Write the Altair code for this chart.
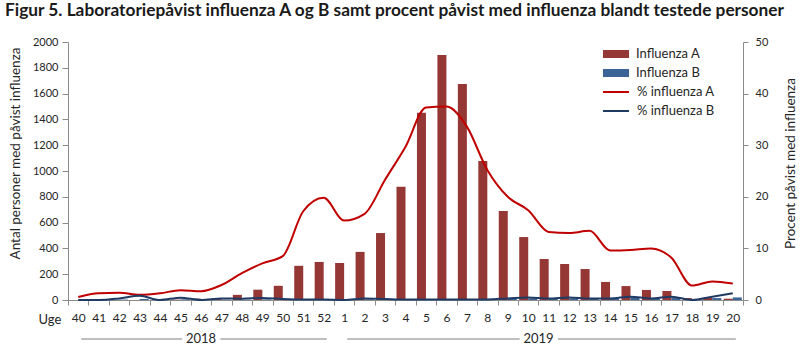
import altair as alt
import pandas as pd

weeks = ["40", "41", "42", "43", "44", "45", "46", "47", "48", "49", "50", "51", "52",
         "1", "2", "3", "4", "5", "6", "7", "8", "9", "10", "11", "12", "13", "14",
         "15", "16", "17", "18", "19", "20"]
years = ["2018"] * 13 + ["2019"] * 20

infl_a = [0, 0, 0, 0, 0, 3, 10, 15, 40, 80, 110, 265, 295,
          287, 373, 519, 878, 1452, 1899, 1674, 1077, 690, 488, 318, 279, 240, 140,
          108, 78, 70, 15, 18, 10]
infl_b = [0, 0, 3, 8, 3, 5, 2, 3, 3, 5, 3, 3, 3,
          2, 5, 4, 5, 6, 5, 5, 6, 8, 12, 10, 12, 10, 12,
          20, 12, 15, 5, 15, 20]
pct_a = [0.6, 1.3, 1.4, 1.0, 1.3, 1.9, 1.7, 2.9, 5.2, 7.1, 8.5, 17.2, 19.8,
         15.4, 16.7, 23.3, 29.7, 37.3, 37.5, 33.6, 25.2, 20.0, 17.4, 13.2, 13.0, 13.4, 9.6,
         9.7, 10.0, 8.2, 2.8, 3.6, 3.2]
pct_b = [0.0, 0.0, 0.3, 0.8, 0.0, 0.45, 0.0, 0.3, 0.25, 0.4, 0.2, 0.1, 0.1,
         0.0, 0.3, 0.2, 0.1, 0.1, 0.1, 0.1, 0.1, 0.3, 0.5, 0.3, 0.5, 0.3, 0.3,
         0.65, 0.3, 0.65, 0.0, 0.65, 1.3]

bar_types = ["Influenza A", "Influenza B"]
bar_colors = ["#953735", "#3A6496"]
line_series = ["% influenza A", "% influenza B"]
line_colors = ["#C00000", "#1F3A63"]

title_text = "Figur 5. Laboratoriepåvist influenza A og B samt procent påvist med influenza blandt testede personer"

FONT = "Lato"
TXT = "#262626"
AX = "#8c8c8c"

n = len(weeks)
bars_df = pd.DataFrame({
    "week": weeks * 2,
    "type": [bar_types[0]] * n + [bar_types[1]] * n,
    "count": infl_a + infl_b,
})
lines_df = pd.DataFrame({
    "week": weeks * 2,
    "series": [line_series[0]] * n + [line_series[1]] * n,
    "pct": pct_a + pct_b,
})

# year group row (positions in week-index units)
yr_rows = []
seg_rows = []
for yv in ["2018", "2019"]:
    idx = [i for i, y in enumerate(years) if y == yv]
    start, end = idx[0], idx[-1] + 1
    center = (start + end) / 2
    yr_rows.append({"year": yv, "pos": center})
    seg_rows.append({"a": start + 0.65, "b": center - 0.92})
    seg_rows.append({"a": center + 0.95, "b": end - 0.35})
year_df = pd.DataFrame(yr_rows)
seg_df = pd.DataFrame(seg_rows)

xband = alt.Scale(paddingInner=0, paddingOuter=0)

bar_layer = alt.Chart(bars_df).mark_bar().encode(
    x=alt.X("week:N", sort=weeks, scale=xband,
            axis=alt.Axis(title="Uge", labelAngle=0, tickBand="extent", tickSize=5,
                          labelFontSize=12, labelPadding=7,
                          titleX=-30, titleY=23, titleAlign="left", titleBaseline="alphabetic",
                          titleFontSize=13)),
    xOffset=alt.XOffset("type:N", scale=alt.Scale(domain=bar_types, paddingOuter=0.136, paddingInner=0)),
    y=alt.Y("count:Q", scale=alt.Scale(domain=[0, 2000], nice=False),
            axis=alt.Axis(title="Antal personer med påvist influenza", values=list(range(0, 2001, 200)),
                          format="d", tickSize=6, labelPadding=4, labelFontSize=11,
                          titleX=-53, titleY=111, titleAngle=270, titleBaseline="middle",
                          titleAlign="center", titleFontSize=13.5)),
    color=alt.Color("type:N", scale=alt.Scale(domain=bar_types, range=bar_colors),
                    legend=alt.Legend(title=None, orient="none", legendX=535, legendY=2.5,
                                      symbolType="M-1,-0.3H1V0.3H-1Z", symbolSize=676,
                                      symbolStrokeWidth=0, clipHeight=19, rowPadding=0,
                                      labelFont=FONT, labelFontSize=13, labelColor=TXT,
                                      labelOffset=7, padding=0)),
)

line_layer = alt.Chart(lines_df).mark_line(strokeWidth=2, interpolate="monotone").encode(
    x=alt.X("week:N", sort=weeks, scale=xband, axis=None),
    y=alt.Y("pct:Q", scale=alt.Scale(domain=[0, 50], nice=False),
            axis=alt.Axis(orient="right", title="Procent påvist med influenza",
                          values=list(range(0, 51, 10)), tickSize=5, labelPadding=7,
                          labelFontSize=11,
                          titleX=47, titleY=121, titleAngle=270, titleBaseline="middle",
                          titleAlign="center", titleFontSize=13.5)),
    stroke=alt.Stroke("series:N", scale=alt.Scale(domain=line_series, range=line_colors),
                      legend=alt.Legend(title=None, orient="none", legendX=534, legendY=40.5,
                                        symbolType="stroke", symbolSize=676,
                                        symbolStrokeWidth=2, clipHeight=19, rowPadding=0,
                                        labelFont=FONT, labelFontSize=13, labelColor=TXT,
                                        labelOffset=7, padding=0)),
)

xq = alt.Scale(domain=[0, n], nice=False, zero=False)

seg_layer = alt.Chart(seg_df).mark_rule(color="#7f7f7f", strokeWidth=1).encode(
    x=alt.X("a:Q", scale=xq, axis=None),
    x2="b:Q",
    y=alt.value(297),
)
year_layer = alt.Chart(year_df).mark_text(font=FONT, fontSize=13, color=TXT, baseline="middle").encode(
    x=alt.X("pos:Q", scale=xq, axis=None),
    y=alt.value(297),
    text="year:N",
)

chart = alt.layer(bar_layer, line_layer, seg_layer, year_layer).resolve_scale(
    x="independent", y="independent", color="independent", stroke="independent"
).properties(
    width=675, height=258,
    autosize=alt.AutoSizeParams(type="none"),
    padding={"left": 68, "top": 42, "right": 57, "bottom": 51},
    title=alt.TitleParams(title_text, anchor="start", frame="group", font=FONT, fontSize=17.3,
                          fontWeight="bold", color="#1a1a1a", dx=-63, offset=3,
                          baseline="alphabetic"),
).configure_view(stroke=None).configure_axis(
    grid=False, domainColor=AX, tickColor=AX, labelFont=FONT, labelColor=TXT,
    titleFont=FONT, titleColor=TXT, titleFontWeight="normal",
)

chart.save("out.html", embed_options={"renderer": "svg", "actions": False})
